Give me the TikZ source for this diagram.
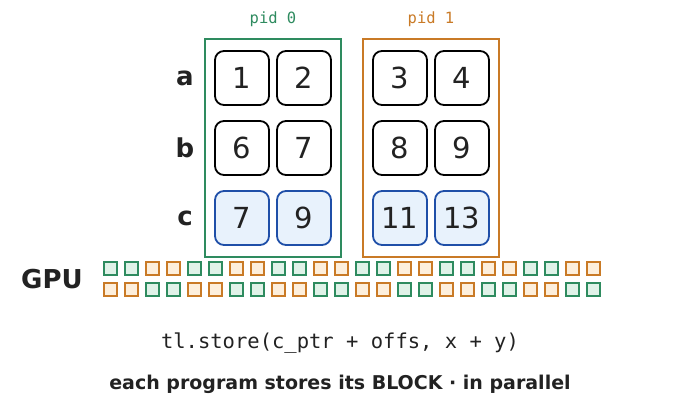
\documentclass[tikz,border=0pt]{standalone}
\usepackage{fontspec}
\setmainfont{DejaVu Sans}
\setmonofont{DejaVu Sans Mono}
\definecolor{gr}{HTML}{2E8B5F}
\definecolor{grf}{HTML}{E0F2E8}
\definecolor{orf}{HTML}{FDEFDC}
\definecolor{or}{HTML}{C97A26}
\definecolor{bl}{HTML}{1F4FA8}
\definecolor{blf}{HTML}{E8F2FC}
\definecolor{tx}{HTML}{222222}
\begin{document}
\begin{tikzpicture}[x=1pt,y=-1pt,
 cell/.style={draw=black,line width=1.8pt,rounded corners=9pt,minimum width=54pt,minimum height=54pt,font=\fontsize{29}{32}\selectfont,text=tx},
 res/.style={cell,draw=bl,fill=blf},
 pidbox/.style={draw=#1,line width=1.8pt},
 gsq/.style={draw=gr,fill=grf,line width=2pt,minimum size=13pt,inner sep=0pt},
 osq/.style={draw=or,fill=orf,line width=2pt,minimum size=13pt,inner sep=0pt},
 lab/.style={font=\bfseries\fontsize{26}{30}\selectfont,text=tx}]
\useasboundingbox (0,0) rectangle (680,418);
\node[pidbox=gr,minimum width=136pt,minimum height=218pt] (p0) at (273,148) {};
\node[pidbox=or,minimum width=136pt,minimum height=218pt] (p1) at (431,148) {};
\node[font=\ttfamily\fontsize{15.5}{18}\selectfont,text=gr] (l0) at (273,19) {pid 0};
\node[font=\ttfamily\fontsize{15.5}{18}\selectfont,text=or] (l1) at (431,19) {pid 1};
\node[lab] (la) at (185,78) {a};
\node[lab] (lb) at (185,148) {b};
\node[lab] (lc) at (185,218) {c};
\node[cell] (a1) at (242,78) {1};
\node[cell] (a2) at (304,78) {2};
\node[cell] (a3) at (400,78) {3};
\node[cell] (a4) at (462,78) {4};
\node[cell] (b1) at (242,148) {6};
\node[cell] (b2) at (304,148) {7};
\node[cell] (b3) at (400,148) {8};
\node[cell] (b4) at (462,148) {9};
\node[res] (c1) at (242,218) {7};
\node[res] (c2) at (304,218) {9};
\node[res] (c3) at (400,218) {11};
\node[res] (c4) at (462,218) {13};
\node[lab] (gpu) at (52,279) {GPU};
\foreach \i in {0,...,23}{
  \pgfmathtruncatemacro{\p}{mod(int(\i/2),2)}
  \ifnum\p=0
    \node[gsq] (r1s\i) at (110.5+21*\i,268.5) {};
    \node[osq] (r2s\i) at (110.5+21*\i,289.5) {};
  \else
    \node[osq] (r1s\i) at (110.5+21*\i,268.5) {};
    \node[gsq] (r2s\i) at (110.5+21*\i,289.5) {};
  \fi
}
\node[font=\ttfamily\fontsize{20.5}{24}\selectfont,text=tx] (code) at (340,343) {tl.store(c\_ptr + offs, x + y)};
\node[font=\bfseries\fontsize{19}{22}\selectfont,text=tx] (cap) at (340,384) {each program stores its BLOCK · in parallel};
\end{tikzpicture}
\end{document}
